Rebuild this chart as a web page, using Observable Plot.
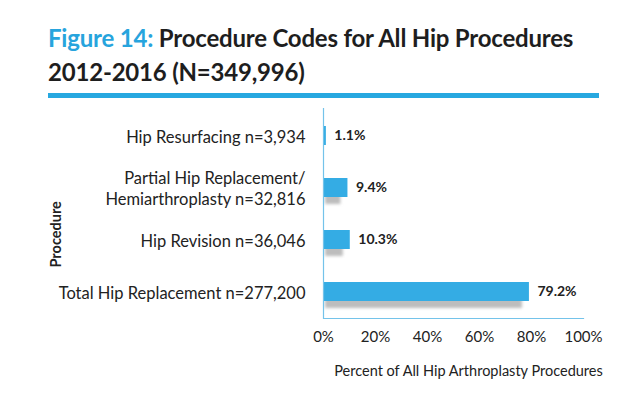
<!DOCTYPE html>
<html>
<head>
<meta charset="utf-8">
<script src="https://cdn.jsdelivr.net/npm/d3@7"></script>
<script src="https://cdn.jsdelivr.net/npm/@observablehq/plot@0.6"></script>
<style>
  html, body { margin: 0; padding: 0; background: #fff; }
  body { width: 640px; height: 398px; position: relative; overflow: hidden; font-family: Lato, "Open Sans", sans-serif; }
  #title { position: absolute; left: 48px; top: 21px; font-size: 24px; line-height: 34px; font-weight: 700; color: #1e1e1e; letter-spacing: -0.2px; }
  #title .fig { color: #27a4dd; }
  #rule { position: absolute; left: 48px; top: 93px; width: 551px; height: 5px; background: #27a8e0; }
  #chart { position: absolute; left: 0; top: 100px; }
</style>
</head>
<body>
<div id="title"><span class="fig">Figure 14:</span> Procedure Codes for All Hip Procedures<br>2012-2016 (N=349,996)</div>
<div id="rule"></div>
<div id="chart"></div>
<script>
const categories = [
  "Hip Resurfacing n=3,934",
  "Partial Hip Replacement/\nHemiarthroplasty n=32,816",
  "Hip Revision n=36,046",
  "Total Hip Replacement n=277,200"
];
const percents = [1.1, 9.4, 10.3, 79.2];
const xTicks = [0, 20, 40, 60, 80, 100];
const xTitle = "Percent of All Hip Arthroplasty Procedures";
const yTitle = "Procedure";

const data = categories.map((c, i) => ({category: c, value: percents[i]}));

const blue = "#34ace4";
const axisBlue = "#74c3ea";

const plot = Plot.plot({
  width: 640,
  height: 298,
  marginLeft: 323,
  marginRight: 57,
  marginTop: 8,
  marginBottom: 80,
  style: {fontFamily: "Lato, 'Open Sans', sans-serif", color: "#222", background: "transparent"},
  x: {domain: [0, 100]},
  y: {domain: categories, paddingInner: 0.637, paddingOuter: 0.32},
  marks: [
    Plot.barX(data, {y: "category", x: "value", fill: "#bdbdbd", dy: 7, insetLeft: 2, insetRight: 7}),
    Plot.barX(data, {y: "category", x: "value", fill: blue}),
    Plot.text(data, {y: "category", x: "value", text: d => d.value.toFixed(1) + "%", textAnchor: "start", dx: 8, fontSize: 14, fontWeight: 700, fill: "#222"}),
    Plot.ruleX([0], {stroke: axisBlue, strokeWidth: 1.2}),
    Plot.frame({anchor: "bottom", stroke: axisBlue, strokeWidth: 1.2}),
    Plot.axisY({tickSize: 0, tickPadding: 18, fontSize: 16.5, label: null, lineHeight: 1.27}),
    Plot.axisX({ticks: xTicks, tickSize: 0, tickPadding: 13, fontSize: 15, tickFormat: d => d + "%", label: null}),
    Plot.text([yTitle], {frameAnchor: "left", rotate: -90, dx: -267, dy: 54, fontSize: 14.5, fontWeight: 700, fill: "#222"}),
    Plot.text([xTitle], {frameAnchor: "bottom", dx: 15, dy: 57, fontSize: 14.5, fill: "#222"})
  ]
});

// soft blur for shadow bars
const svg = d3.select(plot);
const defs = svg.insert("defs", ":first-child");
defs.append("filter").attr("id", "shadowBlur").attr("x", "-10%").attr("y", "-50%").attr("width", "120%").attr("height", "200%")
  .append("feGaussianBlur").attr("stdDeviation", 1.8);
svg.select("g[aria-label=bar]").attr("filter", "url(#shadowBlur)");

document.getElementById("chart").append(plot);
</script>
</body>
</html>
